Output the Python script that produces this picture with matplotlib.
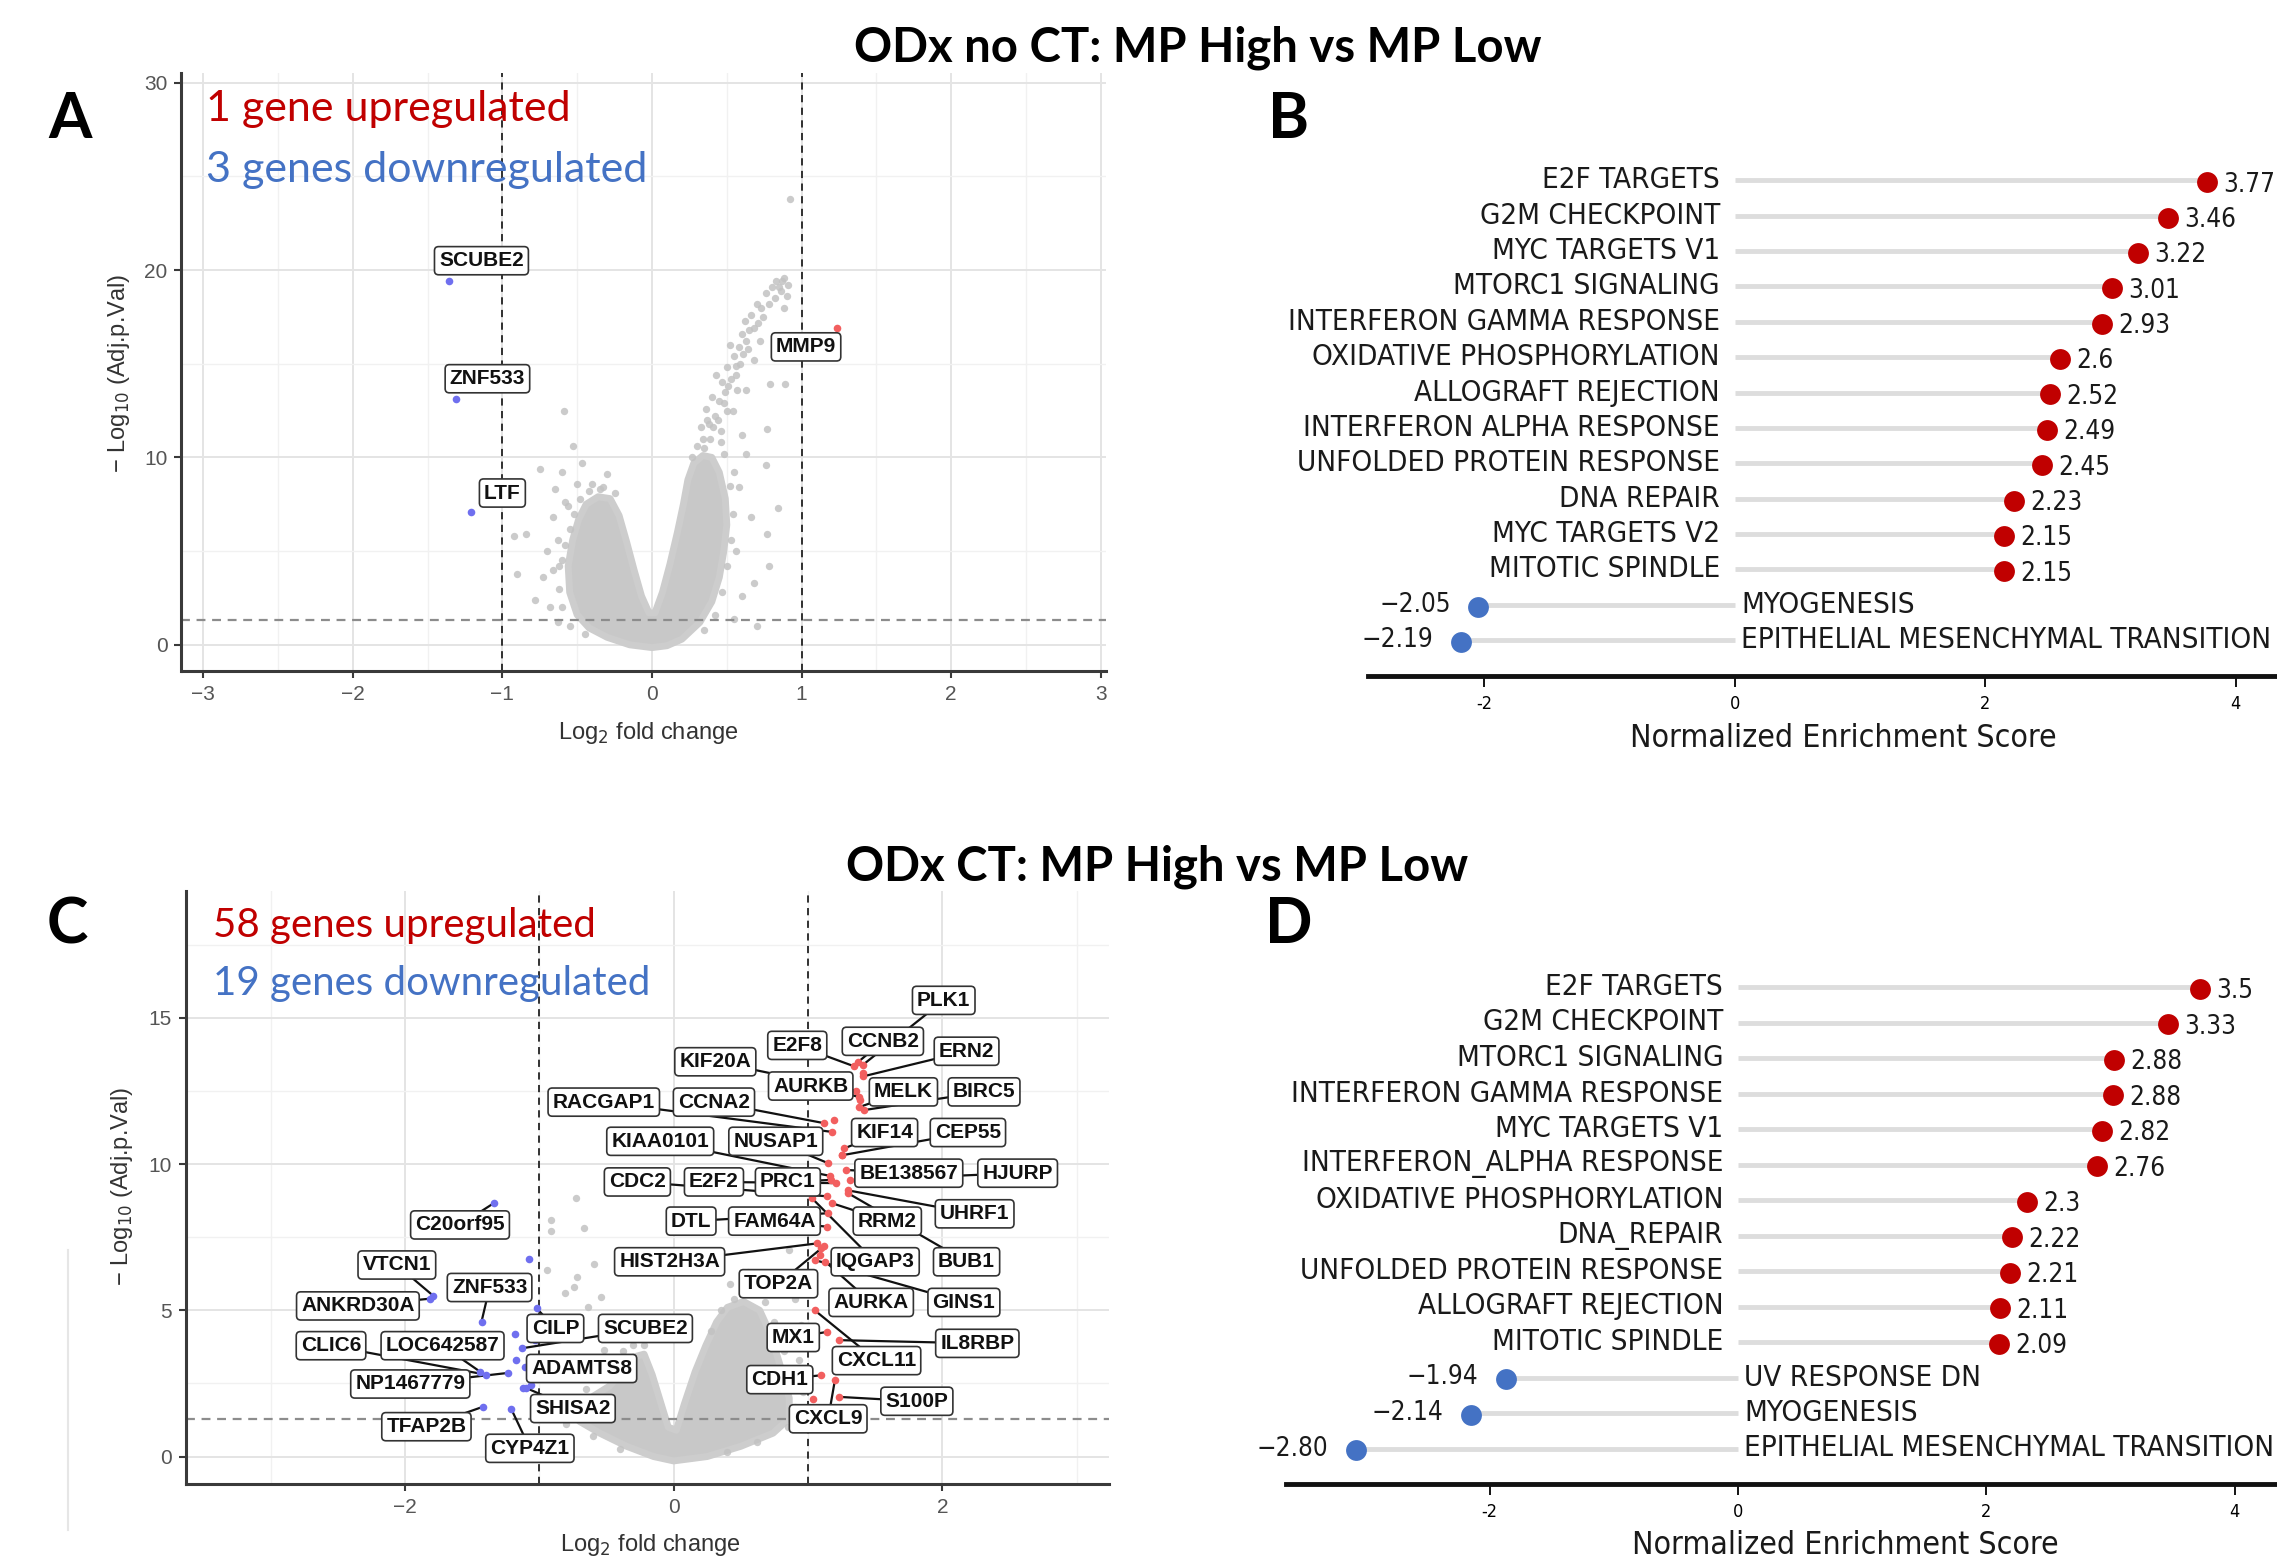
import matplotlib
matplotlib.use("Agg")
import matplotlib.pyplot as plt
from matplotlib import font_manager as fm
from matplotlib.lines import Line2D

# ---- panel A: volcano, ODx no CT ----
a_cloud_x = [0.00, -0.15, -0.30, -0.42, -0.50, -0.55, -0.56, -0.53, -0.49, -0.44, -0.36, -0.28,
             -0.22, -0.17, -0.12, -0.07, -0.02, 0.02, 0.07, 0.12, 0.17, 0.21, 0.24, 0.28, 0.34,
             0.40, 0.45, 0.49, 0.50, 0.48, 0.45, 0.40, 0.32, 0.20, 0.10]
a_cloud_y = [-0.15, 0.0, 0.4, 0.9, 1.6, 2.8, 4.2, 5.6, 6.7, 7.5, 7.9, 7.8,
             6.9, 5.5, 4.0, 2.6, 1.7, 1.7, 2.8, 4.3, 6.0, 7.5, 8.8, 9.7, 10.1,
             10.0, 9.2, 7.8, 6.4, 5.0, 3.6, 2.3, 1.2, 0.3, -0.05]
a_grey_x = [0.34, 0.38, 0.36, 0.42, 0.40, 0.45, 0.47, 0.43, 0.50, 0.53, 0.55, 0.52, 0.58, 0.60,
            0.63, 0.62, 0.66, 0.68, 0.70, 0.73, 0.76, 0.80, 0.83, 0.86, 0.88, 0.90, 0.92, 0.46,
            0.50, 0.57, 0.63, 0.54, 0.60, 0.79, 0.89, 0.77, 0.76, 0.84, 0.77, 0.78, 0.68, 0.63,
            0.58, 0.66, 0.56, 0.60, 0.55, 0.70,
            0.35, 0.39, 0.41, 0.44, 0.37, 0.48, 0.49, 0.51, 0.56, 0.59, 0.56, 0.61, 0.64, 0.65,
            0.71, 0.74, 0.78, 0.82, 0.85, 0.87, 0.91, 0.88, 0.72, 0.68, 0.46, 0.33,
            0.52, 0.54, 0.53, 0.50, 0.47, 0.42, 0.35, 0.55, 0.48, 0.30, 0.27,
            -0.59, -0.53, -0.75, -0.47, -0.60, -0.30, -0.92, -0.78, -0.90, -0.66, -0.84, -0.73,
            -0.65, -0.70, -0.62, -0.68, -0.58, -0.40, -0.35, -0.63,
            -0.60, -0.62, -0.60, -0.58, -0.55, -0.52, -0.48, -0.42, -0.33, -0.25, -0.50, -0.56,
            -0.63, -0.66, -0.55, -0.45]
a_grey_y = [11.0, 11.8, 12.6, 12.2, 13.2, 13.0, 14.0, 14.4, 14.8, 14.2, 15.4, 16.0, 15.9, 16.6,
            16.2, 17.3, 17.6, 16.9, 18.2, 18.0, 18.8, 19.1, 19.4, 18.9, 19.6, 18.6, 23.8, 11.4,
            12.5, 13.6, 13.6, 12.5, 11.2, 13.9, 13.9, 11.5, 9.6, 7.3, 5.9, 4.2, 3.3, 10.2,
            8.4, 6.8, 5.0, 2.6, 1.4, 1.0,
            10.5, 11.0, 11.6, 12.0, 12.0, 12.9, 13.5, 13.8, 14.4, 15.0, 14.9, 15.5, 15.8, 16.8,
            17.2, 17.5, 18.2, 18.5, 19.1, 19.4, 19.2, 18.0, 16.2, 15.2, 10.8, 11.6,
            8.5, 7.0, 5.6, 4.2, 2.8, 1.6, 0.8, 9.2, 10.2, 10.6, 10.0,
            12.5, 10.6, 9.4, 9.7, 9.2, 9.1, 5.8, 2.4, 3.8, 6.8, 5.9, 3.6,
            8.3, 5.0, 4.2, 2.0, 7.6, 8.6, 8.3, 1.2,
            2.0, 3.0, 4.5, 5.3, 6.2, 7.0, 7.8, 8.2, 8.4, 8.1, 8.6, 7.4,
            5.6, 4.0, 1.0, 0.6]
a_genes = ["SCUBE2", "ZNF533", "LTF", "MMP9"]
a_gene_dir = ["down", "down", "down", "up"]
a_gene_x = [-1.36, -1.31, -1.21, 1.24]
a_gene_y = [19.4, 13.1, 7.1, 16.9]
a_label_x = [-1.14, -1.10, -1.00, 1.03]
a_label_y = [20.5, 14.2, 8.1, 15.9]

# ---- panel C: volcano, ODx CT ----
c_cloud_x = [0.00, -0.15, -0.35, -0.55, -0.70, -0.72, -0.62, -0.48, -0.38, -0.30, -0.22,
             -0.16, -0.10, -0.04, 0.02, 0.08, 0.16, 0.24, 0.32, 0.40, 0.52, 0.64,
             0.72, 0.80, 0.86, 0.86, 0.74, 0.50, 0.25]
c_cloud_y = [-0.15, 0.0, 0.35, 0.8, 1.2, 1.6, 2.0, 2.4, 2.9, 3.4, 3.5,
             2.8, 1.9, 1.0, 0.9, 1.8, 2.9, 3.8, 4.6, 5.1, 5.3, 5.0,
             4.2, 3.0, 2.0, 1.3, 0.8, 0.35, 0.0]
c_grey_x = [-0.73, -0.67, -0.91, -0.91, -0.59, -0.72, -0.74, -0.54, -0.81, -0.94, -0.64, -0.52,
            -0.77, -0.45, -0.85, -0.60, 0.42, 0.86, 0.70, 0.55, 0.78, 0.90, 0.95, 0.62, 0.93, 0.96,
            -0.78, -0.80, -0.65, -0.55, -0.45, -0.38, -0.30, -0.22, -0.70, -0.60, -0.40,
            0.58, 0.68, 0.75, 0.82, 0.88, 0.90, 0.85, 0.45, 0.35, 0.28, 0.62, 0.40]
c_grey_y = [8.83, 7.8, 8.08, 7.7, 6.6, 6.15, 5.8, 5.46, 5.58, 6.37, 5.12, 3.64,
            3.41, 4.3, 4.6, 2.9, 5.9, 7.06, 6.2, 6.3, 5.6, 5.4, 4.5, 5.7, 3.3, 2.2,
            1.5, 1.1, 2.3, 2.7, 3.2, 3.6, 3.8, 3.8, 1.9, 0.7, 0.25,
            5.6, 5.3, 4.6, 3.6, 2.6, 1.7, 1.0, 5.4, 5.0, 4.3, 0.5, 0.15]
c_genes = ["PLK1", "CCNB2", "E2F8", "ERN2", "KIF20A", "AURKB", "MELK", "BIRC5", "RACGAP1",
           "CCNA2", "KIF14", "CEP55", "KIAA0101", "NUSAP1", "BE138567", "HJURP", "CDC2",
           "E2F2", "PRC1", "UHRF1", "DTL", "FAM64A", "RRM2", "HIST2H3A", "IQGAP3", "BUB1",
           "TOP2A", "AURKA", "GINS1", "MX1", "IL8RBP", "CXCL11", "CDH1", "S100P", "CXCL9",
           "C20orf95", "VTCN1", "ZNF533", "ANKRD30A", "CILP", "SCUBE2", "CLIC6", "LOC642587",
           "ADAMTS8", "NP1467779", "SHISA2", "TFAP2B", "CYP4Z1"]
c_gene_dir = ["up"] * 35 + ["down"] * 13
c_gene_x = [1.41, 1.37, 1.34, 1.41, 1.36, 1.38, 1.38, 1.42, 1.18, 1.12, 1.27, 1.25, 1.16,
            1.15, 1.28, 1.31, 1.14, 1.21, 1.17, 1.30, 1.15, 1.14, 1.18, 1.07, 1.03, 1.30,
            1.10, 1.13, 1.05, 1.14, 1.23, 1.05, 1.10, 1.23, 1.20,
            -1.34, -1.79, -1.43, -1.81, -1.02, -1.13, -1.40, -1.44, -1.11, -1.23, -1.10,
            -1.42, -1.21]
c_gene_y = [13.40, 13.48, 13.35, 13.0, 12.5, 12.3, 11.95, 11.85, 11.1, 11.4, 10.54, 10.3,
            9.6, 10.03, 9.8, 9.45, 8.9, 9.35, 9.46, 9.1, 8.32, 7.86, 8.66, 7.29, 8.83, 9.0,
            7.12, 6.66, 6.72, 4.26, 3.98, 5.0, 2.78, 2.04, 2.61,
            8.66, 5.5, 4.61, 5.4, 5.07, 3.70, 2.80, 2.90, 3.07, 2.86, 2.35, 1.70, 1.64]
c_label_x = [2.01, 1.557, 0.92, 2.18, 0.31, 1.02, 1.71, 2.31, -0.52, 0.30, 1.57, 2.19, -0.10,
             0.76, 1.75, 2.56, -0.27, 0.30, 0.85, 2.24, 0.13, 0.75, 1.59, -0.03, 1.50, 2.18,
             0.78, 1.47, 2.16, 0.89, 2.26, 1.51, 0.79, 1.81, 1.15,
             -1.59, -2.06, -1.37, -2.35, -0.88, -0.21, -2.55, -1.72, -0.685, -1.96, -0.75,
             -1.84, -1.07]
c_label_y = [15.6, 14.2, 14.06, 13.86, 13.5, 12.67, 12.47, 12.47, 12.12, 12.12, 11.08, 11.08,
             10.78, 10.78, 9.69, 9.69, 9.39, 9.39, 9.39, 8.30, 8.05, 8.05, 8.05, 6.66, 6.66,
             6.66, 5.91, 5.27, 5.27, 4.07, 3.87, 3.28, 2.63, 1.89, 1.29,
             7.92, 6.55, 5.78, 5.15, 4.38, 4.38, 3.79, 3.79, 3.01, 2.48, 1.64, 1.02, 0.28]
c_extra_up_x = [1.04, 1.12, 1.09, 1.25, 1.19, 1.39, 1.41]
c_extra_up_y = [1.98, 7.2, 6.9, 10.31, 11.5, 12.2, 13.1]
c_extra_down_x = [-1.075, -1.18, -1.17, -1.12, -1.06, -1.03]
c_extra_down_y = [6.75, 4.19, 3.30, 2.33, 2.45, 4.0]

# ---- panel B: GSEA, ODx no CT ----
b_pathways = ["E2F TARGETS", "G2M CHECKPOINT", "MYC TARGETS V1", "MTORC1 SIGNALING",
              "INTERFERON GAMMA RESPONSE", "OXIDATIVE PHOSPHORYLATION", "ALLOGRAFT REJECTION",
              "INTERFERON ALPHA RESPONSE", "UNFOLDED PROTEIN RESPONSE", "DNA REPAIR",
              "MYC TARGETS V2", "MITOTIC SPINDLE", "MYOGENESIS",
              "EPITHELIAL MESENCHYMAL TRANSITION"]
b_nes = [3.77, 3.46, 3.22, 3.01, 2.93, 2.6, 2.52, 2.49, 2.45, 2.23, 2.15, 2.15, -2.05, -2.19]
b_nes_text = ["3.77", "3.46", "3.22", "3.01", "2.93", "2.6", "2.52", "2.49", "2.45", "2.23",
              "2.15", "2.15", "\u22122.05", "\u22122.19"]

# ---- panel D: GSEA, ODx CT (dots, labels as printed) ----
d_pathways = ["E2F TARGETS", "G2M CHECKPOINT", "MTORC1 SIGNALING", "INTERFERON GAMMA RESPONSE",
              "MYC TARGETS V1", "INTERFERON_ALPHA RESPONSE", "OXIDATIVE PHOSPHORYLATION",
              "DNA_REPAIR", "UNFOLDED PROTEIN RESPONSE", "ALLOGRAFT REJECTION",
              "MITOTIC SPINDLE", "UV RESPONSE DN", "MYOGENESIS",
              "EPITHELIAL MESENCHYMAL TRANSITION"]
d_nes = [3.72, 3.46, 3.03, 3.02, 2.93, 2.89, 2.33, 2.21, 2.19, 2.11, 2.10, -1.87, -2.15, -3.08]
d_nes_text = ["3.5", "3.33", "2.88", "2.88", "2.82", "2.76", "2.3", "2.22", "2.21", "2.11",
              "2.09", "\u22121.94", "\u22122.14", "\u22122.80"]

W, H = 2277, 1565
RED, BLUE = "#C00000", "#4472C4"
UP_PT, DOWN_PT = "#F25F5F", "#6F6FEF"
SANS = ["Liberation Sans", "DejaVu Sans"]
CALI = ["Lato", "DejaVu Sans"]

plt.rcParams["font.family"] = SANS


def narrow_font():
    # the GSEA panels use an Arial-Narrow-like face; take any condensed face that is installed
    wanted = ["Liberation Sans Narrow", "Arial Narrow", "DejaVu Sans", "Noto Sans",
              "Roboto Condensed", "Open Sans"]
    found = {}
    for f in fm.fontManager.ttflist:
        narrow = (str(f.stretch) in ("condensed", "semi-condensed", "extra-condensed")
                  or "Narrow" in f.name or "Condensed" in f.name)
        if narrow and f.style == "normal" and str(f.weight) in ("400", "normal", "regular", "book"):
            found.setdefault(f.name, f.fname)
    for name in wanted:
        if name in found:
            return fm.FontProperties(fname=found[name])
    if found:
        return fm.FontProperties(fname=sorted(found.values())[0])
    return fm.FontProperties(family="Liberation Sans")


NARROW = narrow_font()


def box(left, top, right, bottom):
    return [left / W, 1 - bottom / H, (right - left) / W, (bottom - top) / H]


def ftext(fig, x, y, s, **kw):
    return fig.text(x / W, 1 - y / H, s, **kw)


def fit_size(fig, s, target_px, base=20.0):
    t = fig.text(0, 0, s, fontproperties=NARROW, fontsize=base)
    w = t.get_window_extent(fig.canvas.get_renderer()).width
    t.remove()
    return base * target_px / w


def draw_volcano(ax, xlim, ylim, xmaj, xmin, ymaj, ymin, cloud_x, cloud_y, grey_x, grey_y,
                 genes, gdir, gx, gy, lx, ly, segments):
    ax.set_xlim(xlim)
    ax.set_ylim(ylim)
    ax.set_xticks(xmaj)
    ax.set_xticks(xmin, minor=True)
    ax.set_yticks(ymaj)
    ax.set_yticks(ymin, minor=True)
    ax.grid(True, which="major", color="#E4E4E4", lw=1.4)
    ax.grid(True, which="minor", color="#F1F1F1", lw=1.0)
    ax.set_axisbelow(True)
    for s in ["top", "right"]:
        ax.spines[s].set_visible(False)
    for s in ["left", "bottom"]:
        ax.spines[s].set_color("#3A3A3A")
        ax.spines[s].set_linewidth(2.2)
    ax.tick_params(which="major", length=5, width=1.5, color="#3A3A3A", labelsize=15,
                   labelcolor="#555555", pad=5)
    ax.tick_params(which="minor", length=0)

    ax.fill(cloud_x, cloud_y, color="#C8C8C8", ec="#CDCDCD", lw=5, joinstyle="round", zorder=1.5)
    ax.scatter(grey_x, grey_y, s=28, color="#C2C2C2", alpha=0.85, lw=0, zorder=1.6)
    for v in (-1, 1):
        ax.axvline(v, color="#222222", ls=(0, (4, 3)), lw=1.3, zorder=2.5)
    ax.axhline(1.3, color="#8C8C8C", ls=(0, (4, 3)), lw=1.6, zorder=2.5)

    for name, d, x, y, tx, ty in zip(genes, gdir, gx, gy, lx, ly):
        if segments:
            ax.plot([tx, x], [ty, y], color="#111111", lw=1.6, zorder=3)
        ax.scatter([x], [y], s=30, color=UP_PT if d == "up" else DOWN_PT, lw=0, zorder=4)
        ax.text(tx, ty, name, ha="center", va="center", fontsize=15, fontweight="bold",
                color="#111111", zorder=5,
                bbox=dict(boxstyle="round,pad=0.22,rounding_size=0.2", fc="white",
                          ec="#333333", lw=1.2))


def draw_lollipop(ax, names, nes, nes_text, xlim, name_size, val_size):
    n = len(names)
    ax.set_xlim(xlim)
    ax.set_ylim(n, -1.0)
    for i, (name, v, t) in enumerate(zip(names, nes, nes_text)):
        ax.plot([0, v], [i, i], color="#DDDDDD", lw=3.5, solid_capstyle="butt", zorder=1)
        ax.plot(v, i + 0.05, "o", ms=15, color=RED if v > 0 else BLUE, mec="none", zorder=3)
        if v > 0:
            ax.text(-0.12, i, name, ha="right", va="center", fontsize=name_size,
                    fontproperties=NARROW, color="#1A1A1A")
            ax.text(v + 0.13, i + 0.12, t, ha="left", va="center", fontsize=val_size,
                    fontproperties=NARROW, color="#1A1A1A")
        else:
            ax.text(0.05, i, name, ha="left", va="center", fontsize=name_size,
                    fontproperties=NARROW, color="#1A1A1A")
            ax.text(v - 0.22, i, t, ha="right", va="center", fontsize=val_size,
                    fontproperties=NARROW, color="#1A1A1A")
    for s in ["top", "right", "left"]:
        ax.spines[s].set_visible(False)
    ax.spines["bottom"].set_linewidth(3.5)
    ax.spines["bottom"].set_color("#111111")
    ax.set_yticks([])
    ax.set_xticks([-2, 0, 2, 4])
    ax.set_xticklabels(["-2", "0", "2", "4"], fontproperties=NARROW, fontsize=13)
    ax.tick_params(axis="x", length=8, width=1.3, pad=6)
    ax.patch.set_alpha(0)


fig = plt.figure(figsize=(W / 100, H / 100), dpi=100)

name_size = fit_size(fig, "INTERFERON GAMMA RESPONSE", 430)
val_size = fit_size(fig, "3.77", 52)
xlab_size = fit_size(fig, "Normalized Enrichment Score", 427)

# A
ax_a = fig.add_axes(box(181.5, 72.6, 1106, 671))
draw_volcano(ax_a, (-3.145, 3.035), (-1.40, 30.54), range(-3, 4), [-2.5, -1.5, -0.5, 0.5, 1.5, 2.5],
             [0, 10, 20, 30], [5, 15, 25], a_cloud_x, a_cloud_y, a_grey_x, a_grey_y,
             a_genes, a_gene_dir, a_gene_x, a_gene_y, a_label_x, a_label_y, segments=False)

# C
ax_c = fig.add_axes(box(185.9, 891, 1109, 1484))
draw_volcano(ax_c, (-3.63, 3.24), (-0.94, 19.34), [-2, 0, 2], [-3, -1, 1, 3],
             [0, 5, 10, 15], [2.5, 7.5, 12.5, 17.5], c_cloud_x, c_cloud_y, c_grey_x, c_grey_y,
             c_genes, c_gene_dir, c_gene_x, c_gene_y, c_label_x, c_label_y, segments=True)
ax_c.scatter(c_extra_up_x, c_extra_up_y, s=30, color=UP_PT, lw=0, zorder=4)
ax_c.scatter(c_extra_down_x, c_extra_down_y, s=30, color=DOWN_PT, lw=0, zorder=4)

# faint edge of a neighbouring cropped figure, left of panel C
fig.add_artist(Line2D([68 / W, 68 / W], [1 - 1250 / H, 1 - 1530 / H], color="#E6E6E6", lw=1.5))

# B, D
ax_b = fig.add_axes(box(1368, 145, 2277, 675.6))
draw_lollipop(ax_b, b_pathways, b_nes, b_nes_text, (-2.93, 4.33), name_size, val_size)
ax_d = fig.add_axes(box(1286, 951.5, 2277, 1484))
draw_lollipop(ax_d, d_pathways, d_nes, d_nes_text, (-3.64, 4.34), name_size, val_size)

# titles, panel letters, counts
ftext(fig, 1198, 48, "ODx no CT: MP High vs MP Low", ha="center", va="center", fontsize=34,
      fontweight="bold", family=CALI)
ftext(fig, 1157, 867, "ODx CT: MP High vs MP Low", ha="center", va="center", fontsize=34,
      fontweight="bold", family=CALI)
for letter, x, y in [("A", 70, 120), ("B", 1289, 120), ("C", 67, 925), ("D", 1289, 925)]:
    ftext(fig, x, y, letter, ha="center", va="center", fontsize=45, fontweight="bold", family=CALI)

ftext(fig, 206, 109, "1 gene upregulated", ha="left", va="center", fontsize=31, color=RED, family=CALI)
ftext(fig, 206, 170, "3 genes downregulated", ha="left", va="center", fontsize=31, color=BLUE, family=CALI)
ftext(fig, 213, 926, "58 genes upregulated", ha="left", va="center", fontsize=29, color=RED, family=CALI)
ftext(fig, 213, 983, "19 genes downregulated", ha="left", va="center", fontsize=29, color=BLUE, family=CALI)

# volcano axis titles
for x, y in [(119, 373), (122, 1186)]:
    ftext(fig, x, y, "\u2212 Log$_{10}$ (Adj.p.Val)", ha="center", va="center", rotation=90,
          fontsize=17, color="#333333")
for x, y in [(648, 733), (650, 1545)]:
    ftext(fig, x, y, "Log$_2$ fold change", ha="center", va="center", fontsize=17, color="#333333")

# GSEA axis titles
for x, y in [(1843, 738), (1845, 1546)]:
    ftext(fig, x, y, "Normalized Enrichment Score", ha="center", va="center", fontsize=xlab_size,
          fontproperties=NARROW, color="#1A1A1A")

fig.savefig("out.png", dpi=100)
